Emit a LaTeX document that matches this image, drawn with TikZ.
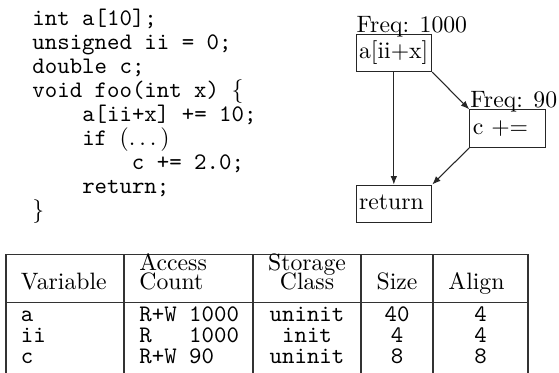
\documentclass[tikz,border=0pt]{standalone}
\usetikzlibrary{arrows.meta}
\begin{document}
\begin{tikzpicture}[x=0.42194pt,y=-0.42194pt,
  code/.style={anchor=base west,inner sep=0pt,font=\ttfamily},
  txt/.style={anchor=base west,inner sep=0pt},
  ttxt/.style={anchor=base west,inner sep=0pt,font=\ttfamily},
  ctr/.style={anchor=base,inner sep=0pt},
  tctr/.style={anchor=base,inner sep=0pt,font=\ttfamily},
  blk/.style={draw=black!85,line width=0.45pt,rectangle,text width=29.3pt,
    inner xsep=1.3pt,inner ysep=2.9pt,text height=7.5pt,text depth=2.5pt,align=left},
  freq/.style={anchor=base west,inner sep=0pt},
  arr/.style={draw=black!85,line width=0.45pt,-{Latex[length=3.6pt,width=2.8pt]}},
  rulestyle/.style={draw=black!80,line width=0.45pt}]
\useasboundingbox (0,0) rectangle (559,373);

% code
\node[code] (l1) at (32,26) {int a[10];};
\node[code] (l2) at (32,50) {unsigned ii = 0;};
\node[code] (l3) at (32,74) {double c;};
\node[code] (l4) at (32,98) {void foo(int x) $\{$};
\node[code] (l5) at (81.8,122) {a[ii+x] += 10;};
\node[code] (l6) at (81.8,146) {if \textrm{(.\kern1.67pt.\kern1.67pt.\kern1.67pt)}};
\node[code] (l7) at (131.5,170) {c += 2.0;};
\node[code] (l8) at (81.8,194) {return;};
\node[code] (l9) at (32,218) {$\}$};

% flow graph
\node[blk] (b1) at (393.85,52.85) {a[ii+x]};
\node[blk] (cb) at (507.6,128.65) {c +=};
\node[blk] (ret) at (393.85,203.8) {return};
\node[freq] (f1) at ([xshift=0.3pt,yshift=0.6pt]b1.north west) {Freq: 1000};
\node[freq] (f2) at ([xshift=0.3pt,yshift=0.6pt]cb.north west) {Freq: 90};
\draw[arr] (b1.south) -- (ret.north);
\draw[arr] (b1.south east) -- (cb.north west);
\draw[arr] (cb.south west) -- (ret.north east);

% table
\draw[rulestyle] (6,254.5) -- (528,254.5);
\draw[rulestyle] (6,302.3) -- (528,302.3);
\foreach \xx in {6,124,253,361,433,528}
  \draw[rulestyle] (\xx,254.5) -- (\xx,373);

\node[txt] (hv) at (20.5,290) {Variable};
\node[txt] (ha1) at (139,270.5) {Access};
\node[txt] (ha2) at (139,290) {Count};
\node[ctr] (hs1) at (307,270.5) {Storage};
\node[ctr] (hs2) at (307,290) {Class};
\node[ctr] (hz) at (397,290) {Size};
\node[txt] (hal) at (448,290) {Align};

\node[ttxt] (v1) at (20.5,321.5) {a};
\node[ttxt] (v2) at (20.5,342.5) {ii};
\node[ttxt] (v3) at (20.5,363.5) {c};
\node[ttxt] (a1) at (139,321.5) {R+W 1000};
\node[ttxt] (a2) at (139,342.5) {R\ \ \ 1000};
\node[ttxt] (a3) at (139,363.5) {R+W 90};
\node[tctr] (s1) at (307,321.5) {uninit};
\node[tctr] (s2) at (307,342.5) {init};
\node[tctr] (s3) at (307,363.5) {uninit};
\node[tctr] (z1) at (397,321.5) {40};
\node[tctr] (z2) at (397,342.5) {4};
\node[tctr] (z3) at (397,363.5) {8};
\node[tctr] (g1) at (480.5,321.5) {4};
\node[tctr] (g2) at (480.5,342.5) {4};
\node[tctr] (g3) at (480.5,363.5) {8};
\end{tikzpicture}
\end{document}
